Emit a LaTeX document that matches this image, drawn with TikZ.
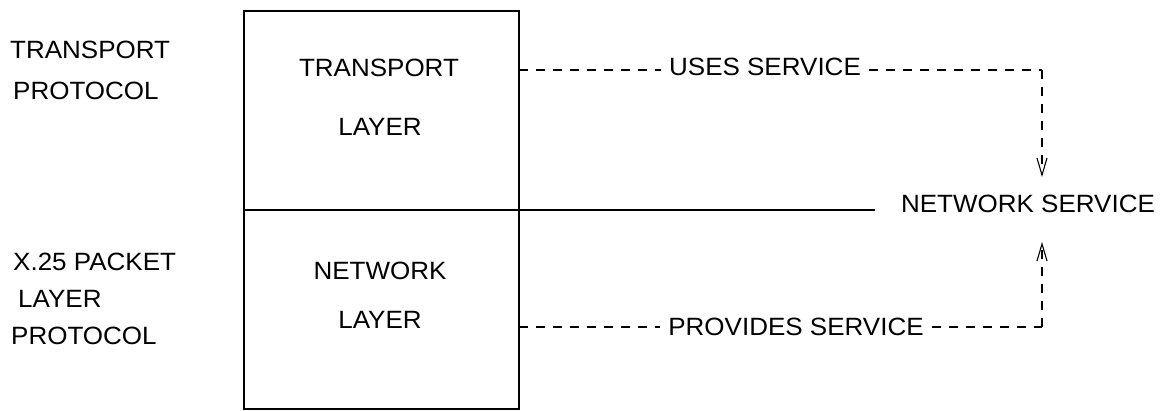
\documentclass[tikz,border=0pt]{standalone}
\usepackage{fontspec}
\setmainfont[FakeStretch=1.04]{Liberation Sans}
\usetikzlibrary{arrows.meta,fit}
\tikzset{
  lbl/.style={inner sep=0pt, font=\fontsize{25}{30}\selectfont},
  onlink/.style={lbl, inner xsep=8pt},
  solidline/.style={line width=1.3pt},
  dashlink/.style={line width=1.1pt, dash pattern=on 9pt off 8pt},
  barb/.style={-{Straight Barb[length=17pt,width=10pt,line width=1.1pt]}}
}
\begin{document}
\begin{tikzpicture}[x=1pt,y=-1pt]
\useasboundingbox (0,0) rectangle (1162,410);

% layer stack
\coordinate (stacktl) at (244,11);
\coordinate (stackbr) at (519,409);
\node[draw, solidline, inner sep=0pt, fit=(stacktl)(stackbr)] (stack) {};
\coordinate (split) at (244,210);
\coordinate (splitend) at (875,210);
\draw[solidline] (split) -- (splitend);

% texts inside the stack
\node[lbl] (tlayer1) at (379,68) {TRANSPORT};
\node[lbl] (tlayer2) at (380,126.5) {LAYER};
\node[lbl] (nlayer1) at (380,271) {NETWORK};
\node[lbl] (nlayer2) at (380,320) {LAYER};

% protocol names on the left
\node[lbl, anchor=west] (tp1) at (10,50) {TRANSPORT};
\node[lbl, anchor=west] (tp2) at (13,91) {PROTOCOL};
\node[lbl, anchor=west] (xp1) at (13,262) {X.25 PACKET};
\node[lbl, anchor=west] (xp2) at (18,299) {LAYER};
\node[lbl, anchor=west] (xp3) at (11,336) {PROTOCOL};

% service relationship
\node[lbl] (ns) at (1028,204) {NETWORK SERVICE};
\node[onlink] (uses) at (765,67) {USES SERVICE};
\node[onlink] (prov) at (796,326.5) {PROVIDES SERVICE};

\coordinate (ustart) at (519,70);
\coordinate (ucorner) at (1042,70);
\coordinate (udown) at (1042,177);
\coordinate (pstart) at (519,327);
\coordinate (pcorner) at (1042,327);
\coordinate (pup) at (1042,242);

\draw[dashlink] (ustart) -- (uses.west |- ustart);
\draw[dashlink] (uses.east |- ucorner) -- (ucorner);
\draw[dashlink, barb] (ucorner) -- (udown);

\draw[dashlink] (pstart) -- (prov.west |- pstart);
\draw[dashlink] (prov.east |- pcorner) -- (pcorner);
\draw[dashlink, barb] (pcorner) -- (pup);
\end{tikzpicture}
\end{document}
